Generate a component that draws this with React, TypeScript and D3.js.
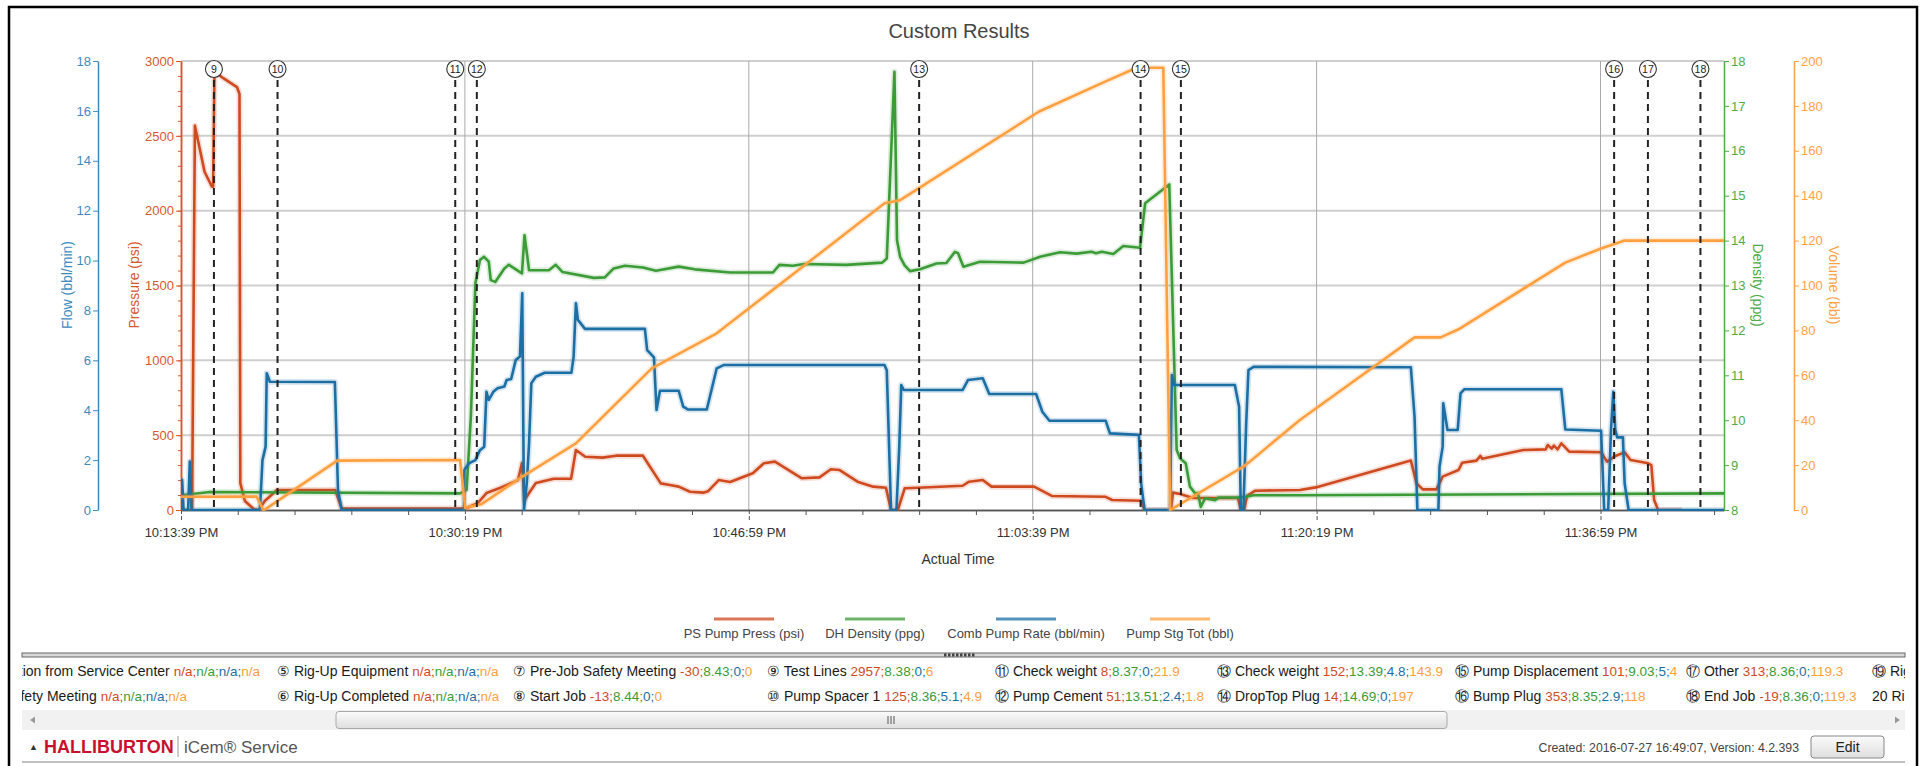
import React, { useEffect, useRef } from 'react';
import * as d3 from 'd3';

// job clock starts at 10:13:39 PM, all times are seconds after that
const jobStart = new Date(2016, 6, 27, 22, 13, 39);
const jobEnd = 5435;

// [sec, psi]
const pumpPress: [number, number][] = [
  [0, 0], [39, 0], [49, 2568], [83, 2260], [109, 2160], [113, 2160], [118, 2929], [149, 2885],
  [197, 2826], [206, 2780], [209, 180], [225, 60], [257, 5], [274, 0], [295, 60], [338, 134],
  [543, 134], [566, 10], [983, 10], [1006, 13], [1045, 45], [1076, 113], [1123, 147], [1187, 200],
  [1201, 313], [1210, 67], [1233, 134], [1250, 180], [1313, 209], [1374, 209], [1391, 401],
  [1424, 356], [1485, 350], [1532, 363], [1627, 363], [1690, 178], [1722, 167], [1753, 156],
  [1793, 122], [1840, 116], [1856, 125], [1894, 200], [1934, 187], [2014, 245], [2053, 312],
  [2092, 323], [2187, 212], [2249, 218], [2289, 272], [2320, 267], [2383, 189], [2438, 156],
  [2483, 149], [2501, 0], [2525, 0], [2549, 145], [2596, 149], [2753, 162], [2776, 189],
  [2824, 200], [2855, 156], [3005, 156], [3067, 94], [3255, 89], [3280, 67], [3382, 62],
  [3394, 0], [3487, 0], [3494, 116], [3519, 107], [3565, 80], [3723, 80], [3733, 0], [3745, 0],
  [3755, 94], [3784, 129], [3941, 134], [3997, 151], [4332, 330], [4352, 178], [4374, 138],
  [4422, 138], [4444, 223], [4500, 267], [4513, 316], [4563, 330], [4577, 361], [4583, 343],
  [4728, 401], [4807, 405], [4814, 434], [4828, 410], [4836, 430], [4849, 405], [4862, 445],
  [4890, 390], [5002, 386], [5023, 323], [5052, 361], [5085, 385], [5106, 334], [5168, 312],
  [5179, 300], [5189, 67], [5203, 0], [5286, 0],
];

// [sec, ppg]
const dhDensity: [number, number][] = [
  [0, 8.33], [102, 8.4], [983, 8.37], [1006, 8.45], [1021, 10.08], [1037, 13.05], [1053, 13.57],
  [1067, 13.64], [1084, 13.53], [1091, 13.12], [1107, 13.08], [1139, 13.38], [1155, 13.46],
  [1201, 13.27], [1210, 14.12], [1226, 13.34], [1296, 13.34], [1320, 13.46], [1344, 13.3],
  [1454, 13.17], [1493, 13.18], [1524, 13.38], [1564, 13.44], [1627, 13.4], [1673, 13.33],
  [1753, 13.42], [1810, 13.36], [1935, 13.29], [2085, 13.29], [2108, 13.46], [2155, 13.44],
  [2195, 13.48], [2343, 13.46], [2470, 13.51], [2486, 13.6], [2513, 17.76], [2522, 14.01],
  [2533, 13.64], [2549, 13.45], [2568, 13.32], [2603, 13.36], [2661, 13.49], [2696, 13.5],
  [2726, 13.75], [2737, 13.72], [2756, 13.42], [2814, 13.53], [2968, 13.51], [3026, 13.64],
  [3096, 13.74], [3155, 13.71], [3207, 13.75], [3223, 13.72], [3243, 13.75], [3284, 13.7],
  [3319, 13.88], [3378, 13.84], [3396, 14.83], [3481, 15.25], [3507, 9.34], [3519, 9.15],
  [3539, 9.04], [3554, 8.52], [3572, 8.37], [3582, 8.38], [3592, 8.07], [3607, 8.26],
  [3642, 8.22], [3656, 8.28], [3723, 8.28], [3755, 8.3], [3778, 8.33], [3941, 8.33], [5435, 8.37],
];

// [sec, bbl/min]
const pumpRate: [number, number][] = [
  [0, 0], [4, 1.2], [9, 0], [25, 0], [31, 1.94], [37, 0], [278, 0], [287, 2.0], [298, 2.54],
  [302, 5.48], [308, 5.3], [313, 5.14], [542, 5.13], [553, 0.8], [566, 0], [997, 0], [998, 1.6],
  [1014, 1.87], [1037, 2.0], [1053, 2.4], [1068, 2.54], [1076, 4.74], [1084, 4.41], [1100, 4.74],
  [1115, 4.88], [1139, 4.95], [1147, 5.21], [1163, 5.25], [1179, 6.01], [1194, 6.15], [1202, 8.69],
  [1208, 0], [1218, 1.07], [1226, 2.67], [1234, 5.08], [1250, 5.34], [1281, 5.5], [1375, 5.5],
  [1383, 6.15], [1391, 8.29], [1398, 7.62], [1423, 7.26], [1634, 7.26], [1642, 6.41], [1666, 6.12],
  [1675, 4.01], [1687, 4.78], [1753, 4.78], [1769, 4.14], [1785, 4.03], [1852, 4.03], [1887, 5.68],
  [1911, 5.81], [2478, 5.81], [2486, 5.6], [2501, 0], [2520, 0], [2530, 2.54], [2537, 5.01],
  [2546, 4.81], [2753, 4.81], [2772, 5.21], [2824, 5.28], [2847, 4.65], [3012, 4.65], [3034, 3.94],
  [3059, 3.58], [3257, 3.58], [3272, 3.07], [3374, 3.01], [3382, 1.07], [3394, 0], [3484, 0],
  [3490, 5.41], [3498, 5.01], [3712, 5.01], [3727, 4.14], [3733, 0], [3742, 0], [3752, 3.47],
  [3760, 5.61], [3778, 5.74], [4332, 5.72], [4345, 3.74], [4355, 0], [4429, 0], [4433, 1.74],
  [4444, 2.54], [4446, 4.28], [4461, 3.21], [4497, 3.21], [4507, 4.68], [4520, 4.84], [4862, 4.84],
  [4876, 3.23], [5002, 3.18], [5013, 0], [5027, 0], [5037, 3.21], [5045, 4.74], [5052, 3.21],
  [5059, 2.91], [5079, 2.91], [5085, 1.07], [5099, 0], [5435, 0],
];

// [sec, bbl]
const stageTotal: [number, number][] = [
  [0, 5.9], [266, 6.0], [290, 0], [299, 0.5], [550, 22.0], [983, 22.3], [1001, 1], [1060, 2.7],
  [1201, 14.8], [1391, 29.7], [1658, 63.1], [1887, 78.7], [2227, 112], [2478, 136.6], [2533, 138],
  [3021, 177.4], [3255, 190.8], [3366, 197], [3460, 197], [3484, 0], [3742, 19.3], [3760, 21.1],
  [3941, 40.1], [4345, 76.9], [4437, 76.9], [4500, 80.5], [4876, 110.2], [5002, 116.5],
  [5085, 120], [5435, 120],
];

const eventIds = [9, 10, 11, 12, 13, 14, 15, 16, 17, 18];
const eventSecs = [116, 340, 966, 1042, 2600, 3380, 3522, 5048, 5167, 5352];

const seriesNames = ['PS Pump Press (psi)', 'DH Density (ppg)', 'Comb Pump Rate (bbl/min)', 'Pump Stg Tot (bbl)'];
const seriesColors = ['#cf4a1f', '#3b9b37', '#1b6fa4', '#ffa040'];
const legendCenters = [744, 875, 1026, 1180];

// event table, two rows of columns
const tableIds = [
  ['③', '⑤', '⑦', '⑨', '⑪', '⑬', '⑮', '⑰', '⑲'],
  ['④', '⑥', '⑧', '⑩', '⑫', '⑭', '⑯', '⑱', '20'],
];
const tableNames = [
  ['Arrive at Location from Service Center', 'Rig-Up Equipment', 'Pre-Job Safety Meeting', 'Test Lines',
    'Check weight', 'Check weight', 'Pump Displacement', 'Other', 'Rig-Down Equipment'],
  ['Pre-Rig Up Safety Meeting', 'Rig-Up Completed', 'Start Job', 'Pump Spacer 1', 'Pump Cement',
    'DropTop Plug', 'Bump Plug', 'End Job', 'Rig-Down Completed'],
];
const na = ['n/a', 'n/a', 'n/a', 'n/a'];
const tableValues = [
  [na, na, ['-30', '8.43', '0', '0'], ['2957', '8.38', '0', '6'], ['8', '8.37', '0', '21.9'],
    ['152', '13.39', '4.8', '143.9'], ['101', '9.03', '5', '4'], ['313', '8.36', '0', '119.3'], na],
  [na, na, ['-13', '8.44', '0', '0'], ['125', '8.36', '5.1', '4.9'], ['51', '13.51', '2.4', '1.8'],
    ['14', '14.69', '0', '197'], ['353', '8.35', '2.9', '118'], ['-19', '8.36', '0', '119.3'], na],
];
const tableCols = [0, 277, 513, 767, 995, 1217, 1455, 1686, 1872];
const firstColEnds = [260, 187];

const FONT = "'Liberation Sans', Arial, sans-serif";

const CustomResults = () => {
  const svgRef = useRef<SVGSVGElement>(null);

  useEffect(() => {
    if (!svgRef.current) return;
    const svg = d3.select(svgRef.current);
    svg.selectAll('*').remove();

    const L = 181, R = 1724, T = 61, B = 510;
    const toDate = (s: number) => new Date(jobStart.getTime() + s * 1000);

    const x = d3.scaleTime().domain([toDate(0), toDate(jobEnd)]).range([L, R]);
    const yPress = d3.scaleLinear().domain([0, 3000]).range([B, T]);
    const yFlow = d3.scaleLinear().domain([0, 18]).range([B, T]);
    const yDens = d3.scaleLinear().domain([8, 18]).range([B, T]);
    const yVol = d3.scaleLinear().domain([0, 200]).range([B, T]);

    const defs = svg.append('defs');
    defs.append('clipPath').attr('id', 'plotClip')
      .append('rect').attr('x', L).attr('y', T - 2).attr('width', R - L).attr('height', B - T + 3);
    defs.append('clipPath').attr('id', 'tableClip')
      .append('rect').attr('x', 22).attr('y', 660).attr('width', 1883).attr('height', 48);
    const g1 = defs.append('linearGradient').attr('id', 'thumbGrad').attr('x1', 0).attr('y1', 0).attr('x2', 0).attr('y2', 1);
    g1.append('stop').attr('offset', '0%').attr('stop-color', '#fbfbfb');
    g1.append('stop').attr('offset', '100%').attr('stop-color', '#dedede');

    // outer frame
    svg.append('rect').attr('x', 9).attr('y', 7).attr('width', 1908).attr('height', 800)
      .attr('fill', '#fff').attr('stroke', '#000').attr('stroke-width', 2.5);

    svg.append('text').attr('x', 959).attr('y', 38).attr('text-anchor', 'middle')
      .attr('font-family', FONT).attr('font-size', 20).attr('fill', '#444').text('Custom Results');

    // grid
    const majorSecs = d3.range(0, jobEnd, 1000);
    const minorSecs = d3.range(0, jobEnd, 200).filter(s => s % 1000 !== 0);
    svg.append('g').selectAll('line').data(d3.range(500, 3001, 500)).enter().append('line')
      .attr('x1', L).attr('x2', R).attr('y1', d => yPress(d)).attr('y2', d => yPress(d))
      .attr('stroke', '#cfcfcf').attr('stroke-width', 2);
    svg.append('g').selectAll('line').data(majorSecs.slice(1)).enter().append('line')
      .attr('x1', d => x(toDate(d))).attr('x2', d => x(toDate(d))).attr('y1', T).attr('y2', B)
      .attr('stroke', '#aaa').attr('stroke-width', 1);

    const styleAxis = (g: any, color: string) => {
      g.selectAll('path').attr('stroke', color).attr('stroke-width', 1.5);
      g.selectAll('line').attr('stroke', color);
      g.selectAll('text').attr('fill', color).attr('font-size', 13).attr('font-family', FONT);
    };

    // x axis
    const xMinor = svg.append('g').attr('transform', `translate(0,${B})`)
      .call(d3.axisBottom(x).tickValues(minorSecs.map(toDate)).tickSize(5).tickFormat(() => '').tickSizeOuter(0));
    styleAxis(xMinor, '#555');
    const xMajor = svg.append('g').attr('transform', `translate(0,${B})`)
      .call(d3.axisBottom(x).tickValues(majorSecs.map(toDate)).tickSize(10).tickPadding(8)
        .tickFormat(d => d3.timeFormat('%-I:%M:%S %p')(d as Date)).tickSizeOuter(0));
    styleAxis(xMajor, '#555');
    xMajor.selectAll('line').attr('stroke-dasharray', '4,2');
    xMajor.selectAll('text').attr('fill', '#333');
    svg.append('text').attr('x', 958).attr('y', 564).attr('text-anchor', 'middle')
      .attr('font-family', FONT).attr('font-size', 14).attr('fill', '#333').text('Actual Time');

    // left axes
    const pMinor = svg.append('g').attr('transform', `translate(${L},0)`)
      .call(d3.axisLeft(yPress).tickValues(d3.range(0, 3001, 100)).tickSize(3).tickFormat(() => '').tickSizeOuter(0));
    styleAxis(pMinor, '#d4582f');
    const pAxis = svg.append('g').attr('transform', `translate(${L},0)`)
      .call(d3.axisLeft(yPress).tickValues(d3.range(0, 3001, 500)).tickSize(5).tickPadding(2)
        .tickFormat(d3.format('d')).tickSizeOuter(0));
    styleAxis(pAxis, '#d4582f');
    const fAxis = svg.append('g').attr('transform', 'translate(98,0)')
      .call(d3.axisLeft(yFlow).tickValues(d3.range(0, 19, 2)).tickSize(5).tickPadding(2).tickSizeOuter(0));
    styleAxis(fAxis, '#3d8bbd');
    const dAxis = svg.append('g').attr('transform', `translate(${R},0)`)
      .call(d3.axisRight(yDens).tickValues(d3.range(8, 19, 1)).tickSize(5).tickPadding(2).tickSizeOuter(0));
    styleAxis(dAxis, '#4eab47');
    const vAxis = svg.append('g').attr('transform', 'translate(1794,0)')
      .call(d3.axisRight(yVol).tickValues(d3.range(0, 201, 20)).tickSize(5).tickPadding(2).tickSizeOuter(0));
    styleAxis(vAxis, '#ffa245');

    const axisTitle = (tx: number, rot: number, label: string, color: string) =>
      svg.append('text').attr('transform', `translate(${tx},285) rotate(${rot})`)
        .attr('text-anchor', 'middle').attr('dy', '0.35em').attr('font-family', FONT)
        .attr('font-size', 14).attr('fill', color).text(label);
    axisTitle(67, -90, 'Flow (bbl/min)', '#3d8bbd');
    axisTitle(134, -90, 'Pressure (psi)', '#d4582f');
    axisTitle(1758, 90, 'Density (ppg)', '#4eab47');
    axisTitle(1834, 90, 'Volume (bbl)', '#ffa245');

    // series
    const plot = svg.append('g').attr('clip-path', 'url(#plotClip)');
    const series: [[number, number][], any][] = [
      [pumpPress, yPress], [dhDensity, yDens], [pumpRate, yFlow], [stageTotal, yVol],
    ];
    series.forEach(([data, y], i) => {
      const line = d3.line<[number, number]>().x(d => x(toDate(d[0]))).y(d => y(d[1]));
      plot.append('path').datum(data).attr('d', line).attr('fill', 'none')
        .attr('stroke', seriesColors[i]).attr('stroke-width', 6).attr('stroke-opacity', 0.18)
        .attr('stroke-linejoin', 'round');
      plot.append('path').datum(data).attr('d', line).attr('fill', 'none')
        .attr('stroke', seriesColors[i]).attr('stroke-width', 2.6).attr('stroke-linejoin', 'round');
    });

    // event markers
    const ev = svg.append('g').selectAll('g').data(eventIds).enter().append('g')
      .attr('transform', (d, i) => `translate(${x(toDate(eventSecs[i]))},0)`);
    ev.append('line').attr('y1', 80).attr('y2', B).attr('stroke', '#222')
      .attr('stroke-width', 2).attr('stroke-dasharray', '7,5');
    ev.append('circle').attr('cy', 69).attr('r', 8.5).attr('fill', '#fff').attr('stroke', '#333').attr('stroke-width', 1.1);
    ev.append('text').attr('y', 69).attr('dy', '0.36em').attr('text-anchor', 'middle')
      .attr('font-family', FONT).attr('font-size', 10.5).attr('fill', '#222').text(d => d);

    // legend
    const lg = svg.append('g').selectAll('g').data(seriesNames).enter().append('g')
      .attr('transform', (d, i) => `translate(${legendCenters[i]},0)`);
    lg.append('line').attr('x1', -30).attr('x2', 30).attr('y1', 619).attr('y2', 619)
      .attr('stroke', (d, i) => seriesColors[i]).attr('stroke-opacity', 0.75).attr('stroke-width', 3);
    lg.append('text').attr('y', 638).attr('text-anchor', 'middle').attr('font-family', FONT)
      .attr('font-size', 13).attr('fill', '#444').text(d => d);

    // splitter
    svg.append('rect').attr('x', 22).attr('y', 653).attr('width', 1883).attr('height', 4)
      .attr('fill', '#d8d8d8').attr('stroke', '#666').attr('stroke-width', 1);
    svg.append('g').selectAll('rect').data(d3.range(8)).enter().append('rect')
      .attr('x', d => 944 + d * 4).attr('y', 653.5).attr('width', 2.5).attr('height', 3).attr('fill', '#444');

    // event table
    const table = svg.append('g').attr('clip-path', 'url(#tableClip)');
    tableIds.forEach((ids, r) => {
      ids.forEach((id, c) => {
        const t = table.append('text').attr('y', 676 + r * 25).attr('font-family', FONT).attr('font-size', 14);
        if (c === 0) t.attr('x', firstColEnds[r]).attr('text-anchor', 'end');
        else t.attr('x', tableCols[c]);
        t.append('tspan').attr('fill', '#1a1a1a').text(`${id} ${tableNames[r][c]} `);
        tableValues[r][c].forEach((v, k) => {
          t.append('tspan').attr('fill', seriesColors[k]).attr('font-size', 13.5)
            .text(v + (k < 3 ? ';' : ''));
        });
      });
    });

    // scrollbar
    svg.append('rect').attr('x', 22).attr('y', 710).attr('width', 1883).attr('height', 20).attr('fill', '#f1f1f1');
    svg.append('path').attr('d', 'M30,720 L35,716.5 L35,723.5 Z').attr('fill', '#999');
    svg.append('path').attr('d', 'M1900,720 L1895,716.5 L1895,723.5 Z').attr('fill', '#999');
    svg.append('rect').attr('x', 336).attr('y', 711.5).attr('width', 1111).attr('height', 17).attr('rx', 3)
      .attr('fill', 'url(#thumbGrad)').attr('stroke', '#a9a9a9');
    svg.append('g').selectAll('line').data(d3.range(3)).enter().append('line')
      .attr('x1', d => 888 + d * 3).attr('x2', d => 888 + d * 3).attr('y1', 716).attr('y2', 724)
      .attr('stroke', '#555').attr('stroke-width', 1);

    // footer
    svg.append('text').attr('x', 29).attr('y', 750).attr('font-family', FONT).attr('font-size', 9)
      .attr('fill', '#333').text('▲');
    svg.append('text').attr('x', 44).attr('y', 753).attr('font-family', FONT).attr('font-size', 18)
      .attr('font-weight', 'bold').attr('fill', '#c8102e').text('HALLIBURTON');
    svg.append('line').attr('x1', 178).attr('x2', 178).attr('y1', 736).attr('y2', 757).attr('stroke', '#999');
    svg.append('text').attr('x', 184).attr('y', 753).attr('font-family', FONT).attr('font-size', 17)
      .attr('fill', '#555').text('iCem® Service');
    svg.append('text').attr('x', 1799).attr('y', 752).attr('text-anchor', 'end').attr('font-family', FONT)
      .attr('font-size', 12.3).attr('fill', '#444').text('Created: 2016-07-27  16:49:07,   Version: 4.2.393');
    svg.append('rect').attr('x', 1811).attr('y', 736).attr('width', 73).attr('height', 22).attr('rx', 3)
      .attr('fill', 'url(#thumbGrad)').attr('stroke', '#888');
    svg.append('text').attr('x', 1847.5).attr('y', 752).attr('text-anchor', 'middle').attr('font-family', FONT)
      .attr('font-size', 14).attr('fill', '#222').text('Edit');
    svg.append('line').attr('x1', 22).attr('x2', 1905).attr('y1', 762).attr('y2', 762)
      .attr('stroke', '#aaa').attr('stroke-width', 1.5);
  }, []);

  return <svg ref={svgRef} width={1921} height={766} style={{ position: 'absolute', left: 0, top: 0, display: 'block' }} />;
};

export default function App() {
  return <CustomResults />;
}
